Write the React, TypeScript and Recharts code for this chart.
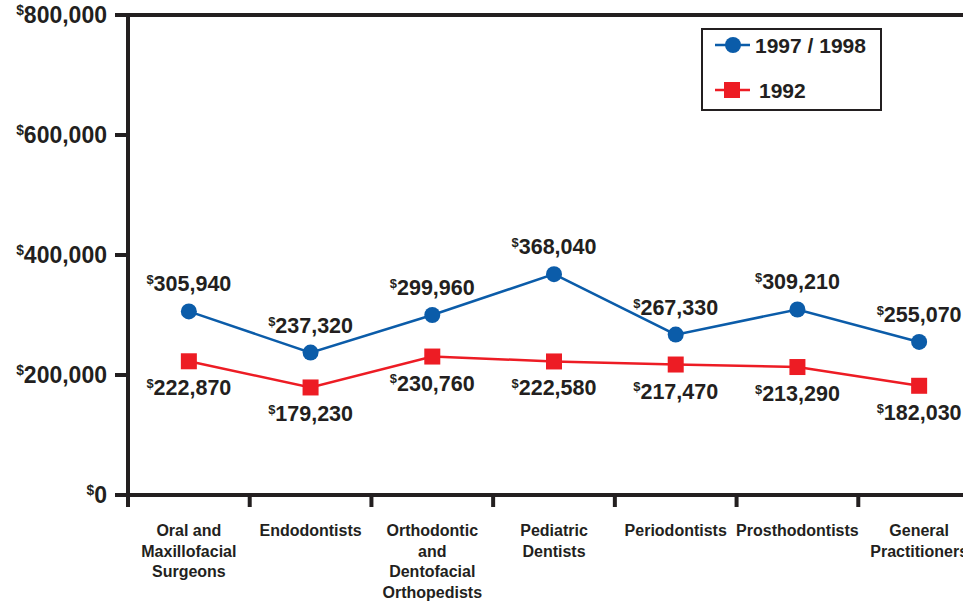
import { LineChart, Line, XAxis, YAxis, ReferenceLine, Legend } from "recharts";

const categories = [
  "Oral and\nMaxillofacial\nSurgeons",
  "Endodontists",
  "Orthodontic\nand\nDentofacial\nOrthopedists",
  "Pediatric\nDentists",
  "Periodontists",
  "Prosthodontists",
  "General\nPractitioners",
];
const income9798 = [305940, 237320, 299960, 368040, 267330, 309210, 255070];
const income1992 = [222870, 179230, 230760, 222580, 217470, 213290, 182030];
const yTicks = [0, 200000, 400000, 600000, 800000];

const INK = "#231f20";
const BLUE = "#0b5ca9";
const RED = "#ed1c24";
const FONT = '"Liberation Sans", Arial, Helvetica, sans-serif';

const CHART_W = 987;
const CHART_H = 601;
const MARGIN = { top: 15, right: 7, bottom: 0, left: 8 };
const Y_AXIS_W = 120;
const BAND = (CHART_W - MARGIN.left - Y_AXIS_W - MARGIN.right) / categories.length;

const data = categories.map((name, i) => ({
  name,
  y9798: income9798[i],
  y1992: income1992[i],
}));

// dollar amount with a small raised "$"
function Money({ x, y, value, size, anchor = "middle" }: any) {
  const lift = size * 0.33;
  return (
    <text x={x} y={y} textAnchor={anchor} fill={INK} fontFamily={FONT} fontWeight="bold">
      <tspan fontSize={size * 0.6} dy={-lift}>$</tspan>
      <tspan fontSize={size} dy={lift}>{Number(value).toLocaleString("en-US")}</tspan>
    </text>
  );
}

function MoneyTick({ x, y, payload }: any) {
  return <Money x={x} y={y + 8} value={payload.value} size={23} anchor="end" />;
}

function CategoryTick({ x, y, payload, index }: any) {
  const lines = String(payload.value).split("\n");
  const right = x + BAND / 2;
  const left = x - BAND / 2;
  return (
    <g>
      <line x1={right} x2={right} y1={y - 12} y2={y} stroke={INK} strokeWidth={4} />
      {index === 0 && <line x1={left} x2={left} y1={y - 12} y2={y} stroke={INK} strokeWidth={4} />}
      <text x={x} y={y + 29} textAnchor="middle" fontSize={16} fontWeight="bold" fill={INK} fontFamily={FONT}>
        {lines.map((l, i) => (
          <tspan key={i} x={x} dy={i === 0 ? 0 : 20.5}>{l}</tspan>
        ))}
      </text>
    </g>
  );
}

function LegendBox({ payload }: any) {
  // circle series first, square series second
  const items = [...(payload ?? [])].sort((a: any, b: any) =>
    a.type === b.type ? 0 : a.type === "circle" ? -1 : 1
  );
  return (
    <svg width={182} height={84} style={{ display: "block" }}>
      <rect x={1} y={1} width={179} height={81} fill="#fff" stroke={INK} strokeWidth={2} />
      {items.map((item: any, i: number) => {
        const cy = 17 + i * 45;
        const color = item.color;
        return (
          <g key={item.value}>
            <line x1={14} x2={49} y1={cy} y2={cy} stroke={color} strokeWidth={2.5} />
            {item.type === "square" ? (
              <rect x={23} y={cy - 8} width={16} height={16} fill={color} />
            ) : (
              <circle cx={32} cy={cy} r={8} fill={color} />
            )}
            <text x={i === 0 ? 54 : 58} y={cy + 7.5} fontSize={21} fontWeight="bold" fill={INK} fontFamily={FONT}>
              {item.value}
            </text>
          </g>
        );
      })}
    </svg>
  );
}

const squareDot = (p: any) => (
  <rect key={p.index} x={p.cx - 8} y={p.cy - 8} width={16} height={16} fill={RED} />
);

export default function App() {
  return (
    <div style={{ position: "fixed", left: 0, top: 0, width: 963, height: 601, overflow: "hidden", background: "#fff" }}>
      <LineChart width={CHART_W} height={CHART_H} data={data} margin={MARGIN}>
        <XAxis
          dataKey="name"
          scale="band"
          interval={0}
          height={106}
          axisLine={{ stroke: INK, strokeWidth: 4 }}
          tickLine={false}
          tickSize={12}
          tickMargin={0}
          tick={<CategoryTick />}
        />
        <YAxis
          domain={[0, 800000]}
          ticks={yTicks}
          width={Y_AXIS_W}
          axisLine={{ stroke: INK, strokeWidth: 4 }}
          tickLine={{ stroke: INK, strokeWidth: 4 }}
          tickSize={13}
          tickMargin={8}
          tick={<MoneyTick />}
        />
        <ReferenceLine y={800000} stroke={INK} strokeWidth={4} />
        <Legend
          layout="vertical"
          align="center"
          verticalAlign="middle"
          wrapperStyle={{ left: 701, top: 28, width: 182, height: 84 }}
          content={<LegendBox />}
        />
        <Line
          dataKey="y9798"
          name="1997 / 1998"
          legendType="circle"
          stroke={BLUE}
          strokeWidth={2.5}
          dot={{ r: 8, fill: BLUE, stroke: "none" }}
          activeDot={false}
          isAnimationActive={false}
          label={(p: any) => <Money key={p.index} x={p.x} y={p.y - 20} value={p.value} size={21.5} />}
        />
        <Line
          dataKey="y1992"
          name="1992"
          legendType="square"
          stroke={RED}
          strokeWidth={2.5}
          dot={squareDot}
          activeDot={false}
          isAnimationActive={false}
          label={(p: any) => <Money key={p.index} x={p.x} y={p.y + 34} value={p.value} size={21.5} />}
        />
      </LineChart>
    </div>
  );
}
